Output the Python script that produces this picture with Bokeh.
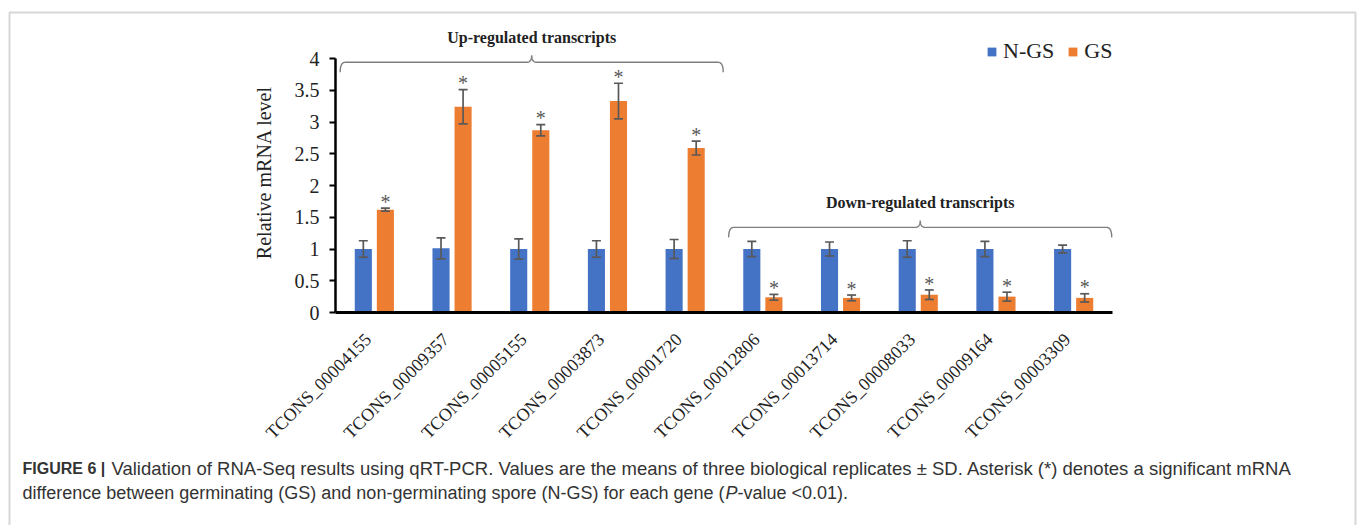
import math
from bokeh.plotting import figure
from bokeh.models import (ColumnDataSource, Range1d, FixedTicker, Whisker,
                          TeeHead, Legend, LegendItem, Label, BoxAnnotation)
from bokeh.embed import file_html
from bokeh.resources import INLINE
from bokeh.core.properties import value

# ---------------- data ----------------
genes = ["TCONS_00004155", "TCONS_00009357", "TCONS_00005155", "TCONS_00003873",
         "TCONS_00001720", "TCONS_00012806", "TCONS_00013714", "TCONS_00008033",
         "TCONS_00009164", "TCONS_00003309"]
ngs_mean = [1.00, 1.01, 1.00, 1.00, 1.00, 1.00, 1.00, 1.00, 1.00, 1.00]
ngs_sd = [0.13, 0.165, 0.16, 0.13, 0.15, 0.12, 0.11, 0.13, 0.12, 0.06]
gs_mean = [1.62, 3.24, 2.87, 3.33, 2.59, 0.24, 0.23, 0.28, 0.25, 0.23]
gs_sd = [0.025, 0.27, 0.09, 0.28, 0.11, 0.045, 0.045, 0.075, 0.07, 0.065]
series_names = ["N-GS", "GS"]
y_ticks = [0, 0.5, 1, 1.5, 2, 2.5, 3, 3.5, 4]
y_tick_labels = ["0", "0.5", "1", "1.5", "2", "2.5", "3", "3.5", "4"]
y_title = "Relative mRNA level"
group_titles = ["Up-regulated transcripts", "Down-regulated transcripts"]
group_first = [0, 5]
group_last = [4, 9]
group_brace_level = [3.94, 1.34]
caption_bold = "FIGURE 6 |"
caption_line1 = ("Validation of RNA-Seq results using qRT-PCR. Values are the means of three "
                 "biological replicates \u00b1 SD. Asterisk (*) denotes a significant mRNA")
caption_line2a = "difference between germinating (GS) and non-germinating spore (N-GS) for each gene ("
caption_line2b = "P"
caption_line2c = "-value <0.01)."

# ---------------- layout / styles ----------------
W, H = 1360, 525
X0_PX, UX = 335.0, 77.7      # pixel of first category edge, pixels per category
Y0_PX, UY = 312.0, 63.5      # pixel of value 0, pixels per unit
BLUE = "#4472C4"
ORANGE = "#ED7D31"
ERR = "#595959"
TXT = "#222222"
SERIF = "Liberation Serif"
SANS = "Liberation Sans"
DODGE = 0.142
BAR_W = 0.22
LABEL_SHIFT = -0.08

n = len(genes)
centers = [i + 0.5 for i in range(n)]
src = ColumnDataSource(dict(
    x_ngs=[c - DODGE for c in centers],
    x_gs=[c + DODGE for c in centers],
    ngs=ngs_mean,
    gs=gs_mean,
    ngs_lo=[m - s for m, s in zip(ngs_mean, ngs_sd)],
    ngs_hi=[m + s for m, s in zip(ngs_mean, ngs_sd)],
    gs_lo=[m - s for m, s in zip(gs_mean, gs_sd)],
    gs_hi=[m + s for m, s in zip(gs_mean, gs_sd)],
    star_y=[m + s + 0.1 for m, s in zip(gs_mean, gs_sd)],
    star=["*"] * n,
))

p = figure(width=W, height=H,
           x_range=Range1d(-X0_PX / UX, (W - X0_PX) / UX),
           y_range=Range1d(-(H - Y0_PX) / UY, Y0_PX / UY),
           output_backend="svg", toolbar_location=None,
           min_border=0, min_border_left=0, min_border_right=0,
           min_border_top=0, min_border_bottom=0)
p.outline_line_color = None
p.grid.grid_line_color = None
p.background_fill_color = "white"
p.border_fill_color = "white"

r1 = p.vbar(x="x_ngs", top="ngs", width=BAR_W, source=src, fill_color=BLUE, line_color=None)
r2 = p.vbar(x="x_gs", top="gs", width=BAR_W, source=src, fill_color=ORANGE, line_color=None)

for base, lo, hi in (("x_ngs", "ngs_lo", "ngs_hi"), ("x_gs", "gs_lo", "gs_hi")):
    w = Whisker(source=src, base=base, lower=lo, upper=hi, level="overlay",
                dimension="height", line_color=ERR, line_width=1.7,
                upper_head=TeeHead(size=9, line_color=ERR, line_width=1.7),
                lower_head=TeeHead(size=9, line_color=ERR, line_width=1.7))
    p.add_layout(w)

p.text(x="x_gs", y="star_y", text="star", source=src,
       text_font=value(SERIF), text_font_size="20px", text_color=ERR,
       text_align="center", text_baseline="middle")

# axes
yax = p.yaxis[0]
yax.fixed_location = 0
yax.ticker = FixedTicker(ticks=y_ticks)
yax.major_label_overrides = {t: l for t, l in zip(y_ticks, y_tick_labels)}
yax.bounds = (0, 4)
yax.axis_line_color = "black"
yax.axis_line_width = 2.5
yax.major_tick_line_color = "black"
yax.major_tick_line_width = 2
yax.major_tick_out = 6
yax.major_tick_in = 0
yax.minor_tick_line_color = None
yax.major_label_text_font = SERIF
yax.major_label_text_font_size = "20px"
yax.major_label_text_color = TXT
yax.major_label_standoff = 10

p.add_layout(Label(x=263, y=H - 172, x_units="screen", y_units="screen", text=y_title,
                   angle=math.pi / 2, text_font=SERIF, text_font_size="20px",
                   text_color=TXT, text_align="center", text_baseline="middle"))

xax = p.xaxis[0]
xax.fixed_location = 0
xax.ticker = FixedTicker(ticks=[c + LABEL_SHIFT for c in centers])
xax.major_label_overrides = {c + LABEL_SHIFT: g for c, g in zip(centers, genes)}
xax.bounds = (0, n)
xax.axis_line_color = "black"
xax.axis_line_width = 3
xax.major_tick_line_color = None
xax.major_tick_out = 0
xax.major_tick_in = 0
xax.minor_tick_line_color = None
xax.major_label_orientation = math.pi / 4
xax.major_label_text_font = SERIF
xax.major_label_text_font_size = "18px"
xax.major_label_text_color = TXT
xax.major_label_standoff = 24

# braces and group titles
def brace(x0, x1, y, r=0.065, h=0.157, steps=12):
    xc = (x0 + x1) / 2
    xs, ys = [], []
    def quad(p0, c, p1):
        for i in range(steps + 1):
            t = i / steps
            xs.append((1 - t) ** 2 * p0[0] + 2 * (1 - t) * t * c[0] + t ** 2 * p1[0])
            ys.append((1 - t) ** 2 * p0[1] + 2 * (1 - t) * t * c[1] + t ** 2 * p1[1])
    quad((x0, y - h), (x0, y), (x0 + r, y))
    quad((xc - r, y), (xc, y), (xc, y + h * 0.7))
    quad((xc, y + h * 0.7), (xc, y), (xc + r, y))
    quad((x1 - r, y), (x1, y), (x1, y - h))
    return xs, ys

for title, a, b, lvl in zip(group_titles, group_first, group_last, group_brace_level):
    x0, x1 = a + 0.06, b + 1 - 0.01
    bx, by = brace(x0, x1, lvl)
    p.line(bx, by, line_color="#7f7f7f", line_width=1.4)
    p.add_layout(Label(x=(x0 + x1) / 2, y=lvl + 0.39, text=title, text_font=SERIF,
                       text_font_size="16px", text_font_style="bold", text_color=TXT,
                       text_align="center", text_baseline="middle"))

legend = Legend(items=[LegendItem(label=series_names[0], renderers=[r1]),
                       LegendItem(label=series_names[1], renderers=[r2])],
                orientation="horizontal", location=(986, H - 64), glyph_width=11,
                glyph_height=11, label_standoff=6, spacing=13, padding=0, margin=0,
                border_line_color=None, background_fill_alpha=0,
                label_text_font=SERIF, label_text_font_size="22px",
                label_text_color=TXT)
p.add_layout(legend)

# figure frame and caption (screen units, origin bottom-left of canvas)
p.add_layout(BoxAnnotation(left=9, right=1355, top=H - 12, bottom=-60,
                           left_units="screen", right_units="screen", top_units="screen",
                           bottom_units="screen", fill_alpha=0, line_color="#777777",
                           line_width=2, level="overlay"))

def cap(x, y, text, style="normal", size="18.5px"):
    p.add_layout(Label(x=x, y=H - y, x_units="screen", y_units="screen", text=text,
                       text_font=SANS, text_font_size=size, text_font_style=style,
                       text_color="#333333", text_baseline="middle", text_align="left"))

cap(22, 468, caption_bold, "bold", "16px")
cap(111, 468, caption_line1)
cap(22, 492, caption_line2a, size="18px")
cap(725, 492, caption_line2b, "italic", "18px")
cap(737, 492, caption_line2c, size="18px")

open("out.html", "w").write(file_html(p, INLINE))
